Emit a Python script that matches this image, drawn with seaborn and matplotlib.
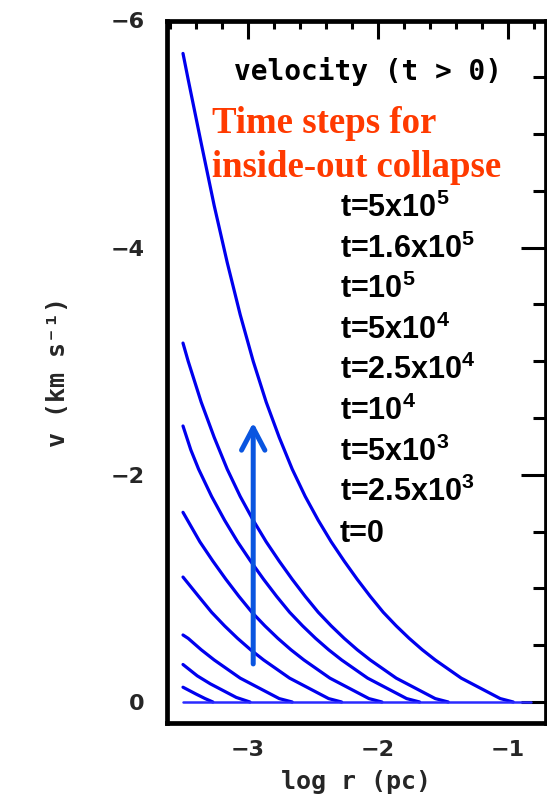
import numpy as np
import pandas as pd
import matplotlib
matplotlib.use("Agg")
import matplotlib.pyplot as plt
from matplotlib.ticker import MultipleLocator, FixedLocator
import seaborn as sns

# ---- velocity profiles v(log r) of the inside-out collapse, one per time step ----
time_labels = ["t=5x10$^5$", "t=1.6x10$^5$", "t=10$^5$", "t=5x10$^4$", "t=2.5x10$^4$",
               "t=10$^4$", "t=5x10$^3$", "t=2.5x10$^3$", "t=0"]

logr_5e5 = [-3.50, -3.46, -3.36, -3.26, -3.16, -3.06, -2.96, -2.86, -2.76, -2.66, -2.56,
            -2.46, -2.36, -2.26, -2.16, -2.06, -1.96, -1.86, -1.76, -1.66, -1.56, -1.46,
            -1.36, -1.26, -1.16, -1.06, -0.96]
v_5e5 = [-5.71, -5.48, -4.92, -4.37, -3.87, -3.41, -3.00, -2.64, -2.33, -2.05, -1.81,
         -1.60, -1.41, -1.24, -1.08, -0.93, -0.79, -0.67, -0.56, -0.46, -0.37, -0.29,
         -0.21, -0.15, -0.09, -0.03, 0.00]

logr_16e5 = [-3.50, -3.46, -3.36, -3.26, -3.16, -3.06, -2.96, -2.86, -2.76, -2.66, -2.56,
             -2.46, -2.36, -2.26, -2.16, -2.06, -1.96, -1.86, -1.76, -1.66, -1.56, -1.46]
v_16e5 = [-3.16, -3.00, -2.64, -2.33, -2.05, -1.81, -1.60, -1.41, -1.24, -1.08, -0.93,
          -0.79, -0.67, -0.56, -0.46, -0.37, -0.29, -0.21, -0.15, -0.09, -0.03, 0.00]

logr_1e5 = [-3.50, -3.44, -3.38, -3.28, -3.18, -3.08, -2.98, -2.88, -2.78, -2.68, -2.58,
            -2.48, -2.38, -2.28, -2.18, -2.08, -1.98, -1.88, -1.78, -1.68]
v_1e5 = [-2.43, -2.22, -2.05, -1.81, -1.60, -1.41, -1.24, -1.08, -0.93, -0.79, -0.67,
         -0.56, -0.46, -0.37, -0.29, -0.21, -0.15, -0.09, -0.03, 0.00]

logr_5e4 = [-3.50, -3.37, -3.27, -3.17, -3.07, -2.97, -2.87, -2.77, -2.67, -2.57, -2.47,
            -2.37, -2.27, -2.17, -2.07, -1.97]
v_5e4 = [-1.67, -1.41, -1.24, -1.08, -0.93, -0.79, -0.67, -0.56, -0.46, -0.37, -0.29,
         -0.21, -0.15, -0.09, -0.03, 0.00]

logr_25e4 = [-3.50, -3.38, -3.28, -3.18, -3.08, -2.98, -2.88, -2.78, -2.68, -2.58, -2.48,
             -2.38, -2.28]
v_25e4 = [-1.10, -0.93, -0.79, -0.67, -0.56, -0.46, -0.37, -0.29, -0.21, -0.15, -0.09,
          -0.03, 0.00]

logr_1e4 = [-3.50, -3.46, -3.36, -3.26, -3.16, -3.06, -2.96, -2.86, -2.76, -2.66]
v_1e4 = [-0.59, -0.56, -0.46, -0.37, -0.29, -0.21, -0.15, -0.09, -0.03, 0.00]

logr_5e3 = [-3.50, -3.39, -3.29, -3.19, -3.09, -2.985]
v_5e3 = [-0.33, -0.23, -0.16, -0.10, -0.04, 0.00]

logr_25e3 = [-3.50, -3.40, -3.33, -3.27]
v_25e3 = [-0.13, -0.07, -0.03, 0.00]

logr_t0 = [-3.50, -0.82]
v_t0 = [0.00, 0.00]

# arrow marking the direction of increasing time
arrow_logr = -2.96
arrow_v = (-0.335, -2.46)

profiles = [(logr_5e5, v_5e5), (logr_16e5, v_16e5), (logr_1e5, v_1e5),
            (logr_5e4, v_5e4), (logr_25e4, v_25e4), (logr_1e4, v_1e4),
            (logr_5e3, v_5e3), (logr_25e3, v_25e3)]

frames = []
for label, (lr, vv) in zip(time_labels[:-1], profiles):
    frames.append(pd.DataFrame({"logr": lr, "v": vv, "time": label}))
df = pd.concat(frames, ignore_index=True)
df_t0 = pd.DataFrame({"logr": logr_t0, "v": v_t0, "time": time_labels[-1]})

# ---- styling ----
sns.set_style("white")
plt.rcParams["font.family"] = ["DejaVu Sans"]
plt.rcParams["mathtext.fontset"] = "custom"
plt.rcParams["mathtext.rm"] = "Liberation Sans:bold"
plt.rcParams["mathtext.default"] = "rm"

W, H = 547, 801
fig = plt.figure(figsize=(W / 100, H / 100), dpi=100)
left_px, right_px, top_px, bot_px = 167, 545.5, 20.5, 723
ax = fig.add_axes([left_px / W, 1 - bot_px / H,
                   (right_px - left_px) / W, (bot_px - top_px) / H])

curve_blue = "#0000ee"
sns.lineplot(data=df, x="logr", y="v", units="time", estimator=None, sort=False,
             color=curve_blue, lw=2.3, ax=ax, legend=False)
sns.lineplot(data=df_t0, x="logr", y="v", estimator=None, sort=False,
             color="#2a2aff", lw=1.8, ax=ax, legend=False)

ax.annotate("", xy=(arrow_logr, arrow_v[1]), xytext=(arrow_logr, arrow_v[0]),
            arrowprops=dict(arrowstyle="->,head_length=0.8,head_width=0.42",
                            color="#0a55e0", lw=3.6, shrinkA=0, shrinkB=0,
                            mutation_scale=20))

ax.set_xlim(-3.623, -0.712)
ax.set_ylim(0.185, -6.0)

ax.xaxis.set_major_locator(FixedLocator([-3, -2, -1]))
ax.xaxis.set_minor_locator(MultipleLocator(0.2))
ax.yaxis.set_major_locator(FixedLocator([-6, -4, -2, 0]))
ax.yaxis.set_minor_locator(MultipleLocator(0.5))

for s in ax.spines.values():
    s.set_linewidth(3.4)
    s.set_color("black")

ax.tick_params(which="both", direction="in", top=True, right=True, width=2.2,
               color="black")
ax.tick_params(axis="x", which="major", length=13, pad=12)
ax.tick_params(axis="x", which="minor", length=5.8)
ax.tick_params(axis="y", which="major", length=18, pad=16)
ax.tick_params(axis="y", which="minor", length=9.4)
for lab in ax.get_xticklabels() + ax.get_yticklabels():
    lab.set_fontsize(16)
    lab.set_fontweight("bold")

mono = dict(family="DejaVu Sans Mono", weight="bold")
ax.set_xlabel("log r (pc)", fontsize=18, **mono)
ax.set_ylabel("v (km s\u207b\u00b9)", fontsize=18, **mono)
ax.xaxis.set_label_coords(0.5, (bot_px - 770) / (bot_px - top_px))
ax.yaxis.set_label_coords((70 - left_px) / (right_px - left_px), 0.5)


def fxy(px, py):
    return px / W, 1 - py / H


fig.text(*fxy(367.5, 80), "velocity (t > 0)", fontsize=20, ha="center",
         va="baseline", color="black", **mono)

red = "#ff3a00"
fig.text(*fxy(212, 133), "Time steps for", fontsize=26.5, color=red,
         family="Liberation Serif", weight="bold", va="baseline")
fig.text(*fxy(212, 177), "inside-out collapse", fontsize=26.5, color=red,
         family="Liberation Serif", weight="bold", va="baseline")

for i, lab in enumerate(time_labels):
    fig.text(*fxy(340, 217 + 40.6 * i), lab, fontsize=22, color="black",
             family="Liberation Sans", weight="bold", va="baseline")

fig.savefig("out.png", dpi=100)
